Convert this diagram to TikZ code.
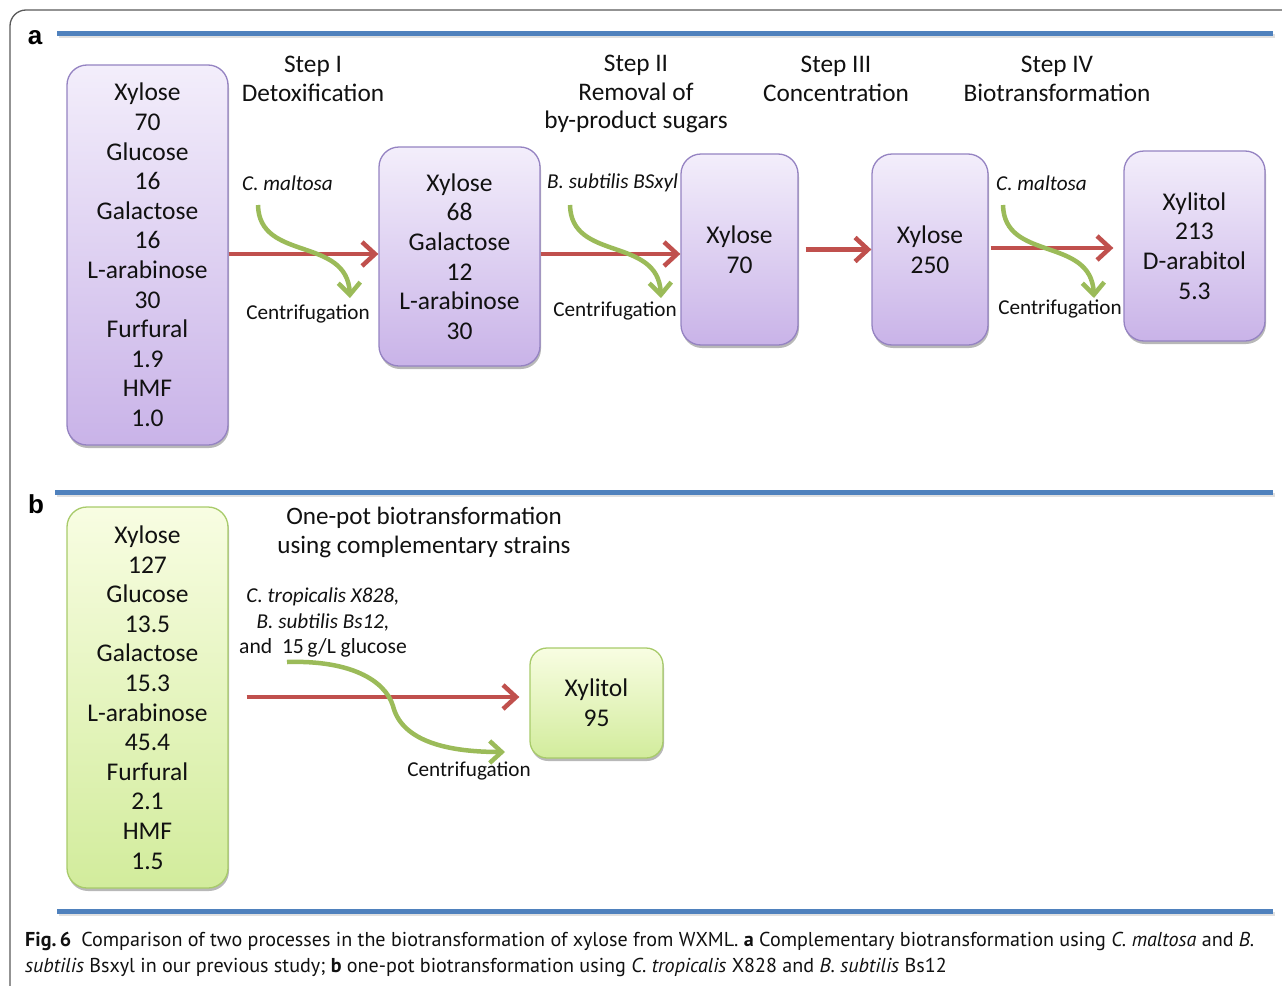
\documentclass[tikz,border=0pt]{standalone}
\usepackage{fontspec}
\setmainfont{Carlito}
\newfontfamily\capfamily{PT Sans}
\newfontfamily\panelfamily{Liberation Sans}
\usetikzlibrary{arrows.meta,shadows}
\definecolor{ptop}{HTML}{F3EEFB}
\definecolor{pbot}{HTML}{C9B3E8}
\definecolor{pline}{HTML}{9583C2}
\definecolor{gtop}{HTML}{F8FDE2}
\definecolor{gbot}{HTML}{D2EC9C}
\definecolor{gline}{HTML}{A8CB6A}
\definecolor{arrred}{HTML}{C0504D}
\definecolor{arrgreen}{HTML}{9BBB59}
\definecolor{rulblue}{HTML}{4F81BD}
\definecolor{framegray}{HTML}{5A5A5A}
\definecolor{txt}{HTML}{111111}
\newcommand\bxfont{\fontsize{25.5}{29.6}\selectfont}
\newcommand\stpfont{\fontsize{25.3}{28.5}\selectfont}
\newcommand\lbfont{\fontsize{21.2}{25.5}\selectfont}
\newcommand\cpfont{\capfamily\fontsize{20.1}{26}\selectfont}
\tikzset{
  box/.style={rounded corners=20pt, line width=1.3pt, align=center, inner sep=0pt,
    font=\bxfont, text=txt,
    drop shadow={shadow xshift=1pt, shadow yshift=-3pt, opacity=0.28, fill=black}},
  purplebox/.style={box, top color=ptop, bottom color=pbot, draw=pline},
  greenbox/.style={box, top color=gtop, bottom color=gbot, draw=gline},
  redarr/.style={draw=arrred, line width=4.5pt, -{Straight Barb[length=13pt,width=24pt]}},
  greenarr/.style={draw=arrgreen, line width=4.5pt, -{Straight Barb[length=12pt,width=22pt]}},
  lbl/.style={font=\lbfont, text=txt, inner sep=0pt, align=center},
  steptxt/.style={font=\stpfont, text=txt, inner sep=0pt, align=center},
  rule/.style={draw=rulblue, line width=5pt},
  ruleshadow/.style={draw=black!12, line width=4pt},
  panellbl/.style={font=\panelfamily\bfseries\fontsize{26}{30}\selectfont, inner sep=0pt}
}
\begin{document}
\begin{tikzpicture}[x=1pt,y=-1pt]
\useasboundingbox (0,0) rectangle (1282,985);
\fill[white] (0,0) rectangle (1282,985);
% frame
\draw[draw=framegray, line width=1.3pt, rounded corners=16pt] (10,986) -- (10,10) -- (1290,10);
% rules
\draw[ruleshadow] (59,36) -- (1275,36);
\draw[rule] (57,33) -- (1273,33);
\draw[ruleshadow] (57,495) -- (1275,495);
\draw[rule] (55,492) -- (1273,492);
\draw[ruleshadow] (59,914) -- (1275,914);
\draw[rule] (57,911) -- (1273,911);
% panel labels
\node[panellbl] (pa) at (35,38) {a};
\node[panellbl] (pb) at (36,504) {b};
% panel a boxes
\node[purplebox, minimum width=161pt, minimum height=380pt] (A1) at (147.5,255)
  {Xylose\\70\\Glucose\\16\\Galactose\\16\\L-arabinose\\30\\Furfural\\1.9\\HMF\\1.0};
\node[purplebox, minimum width=161pt, minimum height=219pt] (A2) at (459.5,256.5)
  {Xylose\\68\\Galactose\\12\\L-arabinose\\30};
\node[purplebox, minimum width=117pt, minimum height=191pt] (A3) at (739.5,249.5)
  {Xylose\\70};
\node[purplebox, minimum width=116pt, minimum height=191pt] (A4) at (930,249.5)
  {Xylose\\250};
\node[purplebox, minimum width=141pt, minimum height=190pt] (A5) at (1194.5,246)
  {Xylitol\\213\\D-arabitol\\5.3};
% step headings
\node[steptxt] (s1) at (313,79) {Step I\\Detoxification};
\node[steptxt] (s2) at (636,94) {Step II\\Removal of\\by-product sugars};
\node[steptxt] (s3) at (836,79) {Step III\\Concentration};
\node[steptxt] (s4) at (1057,79) {Step IV\\Biotransformation};
% labels
\node[lbl, anchor=west] (m1) at (242,183) {\itshape C. maltosa};
\node[lbl] (c1) at (308,314) {Centrifugation};
\node[lbl, anchor=west] (m2) at (547,183) {\itshape B. subtilis BSxyl};
\node[lbl] (c2) at (615,311) {Centrifugation};
\node[lbl, anchor=west] (m3) at (996,183) {\itshape C. maltosa};
\node[lbl] (c3) at (1060,309) {Centrifugation};
% red arrows
\draw[redarr] ([yshift=1pt]A1.east) -- ([yshift=1pt]A1.east -| A2.west);
\draw[redarr] ([yshift=2.5pt]A2.east) -- ([yshift=2.5pt]A2.east -| A3.west);
\draw[redarr] ([xshift=7pt]A3.east) -- (A3.east -| A4.west);
\draw[redarr] ([xshift=2pt,yshift=1.5pt]A4.east) -- ([xshift=-10pt,yshift=1.5pt]A4.east -| A5.west);
% green arrows
\coordinate (g1s) at (258,205); \coordinate (g1e) at (350,298);
\coordinate (g2s) at (570,205); \coordinate (g2e) at (661,298);
\coordinate (g3s) at (1003,205); \coordinate (g3e) at (1094,298);
\draw[greenarr] (g1s) .. controls (259,262) and (347,236) .. (g1e);
\draw[greenarr] (g2s) .. controls (571,262) and (658,236) .. (g2e);
\draw[greenarr] (g3s) .. controls (1004,262) and (1091,236) .. (g3e);
% panel b
\node[greenbox, minimum width=161pt, minimum height=381pt] (B1) at (147.5,697.5)
  {Xylose\\127\\Glucose\\13.5\\Galactose\\15.3\\L-arabinose\\45.4\\Furfural\\2.1\\HMF\\1.5};
\node[greenbox, rounded corners=17pt, minimum width=133pt, minimum height=110pt] (B2) at (596.5,703)
  {Xylitol\\95};
\node[steptxt, font=\fontsize{25.1}{29}\selectfont] (op) at (424,532) {One-pot biotransformation\\using complementary strains};
\node[lbl] (st1) at (323,597) {\itshape C. tropicalis X828,};
\node[lbl] (st2) at (323,622) {\itshape B. subtilis Bs12,};
\node[lbl, font=\fontsize{21.6}{25.5}\selectfont] (st3) at (323,648) {and~~15\,g/L glucose};
\node[lbl] (c4) at (469,771) {Centrifugation};
\draw[redarr] ([xshift=18pt,yshift=0.5pt]B1.east) -- ([xshift=-10pt,yshift=0.5pt]B1.east -| B2.west);
\coordinate (g4s) at (287,662); \coordinate (g4m) at (393,706); \coordinate (g4e) at (505,752);
\draw[greenarr] (g4s) .. controls (350,660) and (385,680) .. (g4m) .. controls (401,738) and (440,752) .. (g4e);
% caption
\node[anchor=base west, inner sep=0pt, font=\cpfont, text=txt] (cap1) at (25,946)
  {\textbf{Fig.\,6}\enspace Comparison of two processes in the biotransformation of xylose from WXML. \textbf{a} Complementary biotransformation using \textit{C.~maltosa} and \textit{B.}};
\node[anchor=base west, inner sep=0pt, font=\cpfont, text=txt] (cap2) at (25,972)
  {\textit{subtilis} Bsxyl in our previous study; \textbf{b} one-pot biotransformation using \textit{C.~tropicalis} X828 and \textit{B.~subtilis} Bs12};
\end{tikzpicture}
\end{document}
